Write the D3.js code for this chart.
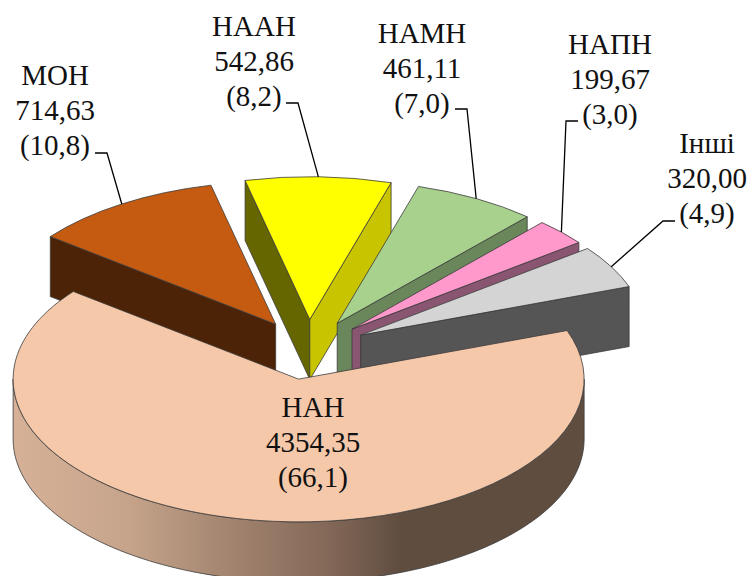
<!DOCTYPE html>
<html lang="uk">
<head>
<meta charset="utf-8">
<script src="https://cdn.jsdelivr.net/npm/d3@7/dist/d3.min.js"></script>
<style>
html,body{margin:0;padding:0;background:#fff;}
svg{display:block;}
text{font-family:"Liberation Serif","Times New Roman",serif;font-size:29px;fill:#111;text-anchor:middle;}
</style>
</head>
<body>
<svg id="chart" width="749" height="576"></svg>
<script>
// Data
const categories = ["НАН", "МОН", "НААН", "НАМН", "НАПН", "Інші"];
const values = [4354.35, 714.63, 542.86, 461.11, 199.67, 320.00];
const shares = [66.1, 10.8, 8.2, 7.0, 3.0, 4.9];

// Styles
const topColors = ["#f5c8aa", "#c55a11", "#ffff00", "#a9d18e", "#ff99cc", "#d4d4d4"];
const startWallColors = ["#000", "#4c2306", "#666600", "#000", "#000", "#000"];
const endWallColors = ["#000", "#000", "#c8c400", "#69875a", "#8a5570", "#555555"];

// Layout
const W = 749, H = 576;
const cx = 308, cy = 349.5, R = 285.5, squash = 0.5, depth = 60, explode = 60;
const firstAngle = 70.1 * Math.PI / 180;
const labelX = [313, 55, 254, 422, 610, 707];
const labelBase = [417, 85, 36, 43, 54, 153];
const lineStep = 35;
const elbowFrom = [null, [95, 153], [286, 103], [455, 109], [578, 121], [675, 221]];
const elbowTo = [null, [107, 153], [298, 103], [467, 109], [566, 121], [663, 221]];
const drawOrder = [1, 2, 3, 4, 5, 0];

const svg = d3.select("#chart");
const stroke = "#3a3a3a";
const fmt = d3.formatLocale({decimal: ",", thousands: "", grouping: [3], currency: ["", ""]}).format(".2f");

const arcs = d3.pie().sort(null).startAngle(firstAngle).endAngle(firstAngle + 2 * Math.PI)(values);
const arcGen = d3.arc().innerRadius(0).outerRadius(R);
const project = (a, r, o) => [o[0] + r * Math.sin(a), o[1] - r * Math.cos(a) * squash];
const originOf = d => {
  const m = (d.startAngle + d.endAngle) / 2;
  return project(m, explode, [cx, cy]);
};

// Gradient of the main slice's outer wall
const grad = svg.append("defs").append("linearGradient")
  .attr("id", "wallGrad").attr("gradientUnits", "userSpaceOnUse")
  .attr("x1", 13).attr("x2", 584).attr("y1", 0).attr("y2", 0);
[[0, "#d6b198"], [0.2, "#c6a48b"], [0.38, "#a2846f"], [0.55, "#846858"], [0.68, "#5f4d40"], [1, "#5f4d40"]]
  .forEach(s => grad.append("stop").attr("offset", s[0]).attr("stop-color", s[1]));

const line = d3.line();
function radialWall(o, a, color) {
  const p = project(a, R, o);
  const pts = [o, p, [p[0], p[1] + depth], [o[0], o[1] + depth]];
  svg.append("path").attr("d", line(pts) + "Z")
    .attr("fill", color).attr("stroke", stroke).attr("stroke-width", 0.8).attr("stroke-linejoin", "round");
}
function outerWall(o, a0, a1) {
  const angles = d3.range(0, 121).map(i => a0 + (a1 - a0) * i / 120);
  const upper = angles.map(a => project(a, R, o));
  const lower = upper.slice().reverse().map(p => [p[0], p[1] + depth]);
  svg.append("path").attr("d", line(upper.concat(lower)) + "Z")
    .attr("fill", "url(#wallGrad)").attr("stroke", stroke).attr("stroke-width", 0.8);
}

drawOrder.forEach(i => {
  const d = arcs[i], o = originOf(d);
  if (Math.sin(d.startAngle) < 0) radialWall(o, d.startAngle, startWallColors[i]);
  if (Math.sin(d.endAngle) > 0) radialWall(o, d.endAngle, endWallColors[i]);
  // Outer rim facing the viewer (angles between 90 and 270 degrees)
  const a0 = Math.max(d.startAngle, Math.PI / 2), a1 = Math.min(d.endAngle, 1.5 * Math.PI);
  if (a1 > a0) outerWall(o, a0, a1);
  svg.append("path")
    .attr("d", arcGen(d))
    .attr("transform", `translate(${o[0]},${o[1]}) scale(1,${squash})`)
    .attr("fill", topColors[i])
    .attr("stroke", stroke).attr("stroke-width", 0.8)
    .attr("stroke-linejoin", "round")
    .attr("vector-effect", "non-scaling-stroke");
});

// Leader lines end on each slice's outer arc, at its mid-angle
categories.forEach((c, i) => {
  if (!elbowFrom[i]) return;
  const d = arcs[i], o = originOf(d);
  const end = project((d.startAngle + d.endAngle) / 2, R, o);
  svg.append("path").attr("d", line([elbowFrom[i], elbowTo[i], end]))
    .attr("fill", "none").attr("stroke", "#000").attr("stroke-width", 1.3);
});

// Labels
categories.forEach((c, i) => {
  const lines = [c, fmt(values[i]), `(${String(shares[i].toFixed(1)).replace(".", ",")})`];
  const t = svg.append("text").attr("x", labelX[i]).attr("y", labelBase[i]);
  lines.forEach((s, k) => t.append("tspan").attr("x", labelX[i]).attr("y", labelBase[i] + k * lineStep).text(s));
});
</script>
</body>
</html>
